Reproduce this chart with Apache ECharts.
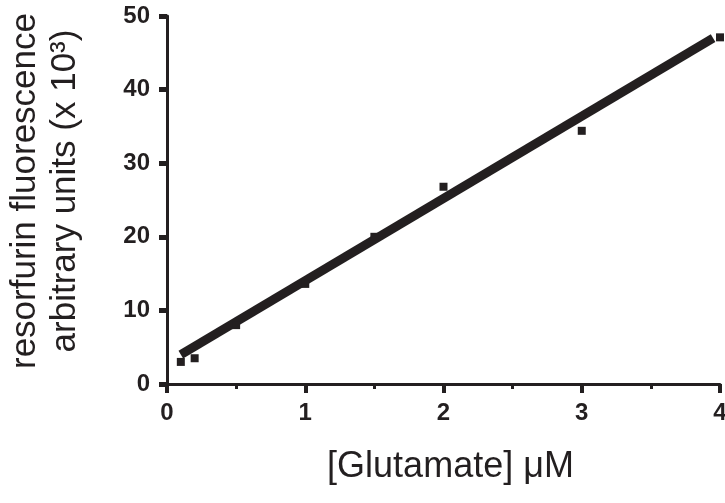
<!DOCTYPE html>
<html>
<head>
<meta charset="utf-8">
<script src="https://cdn.jsdelivr.net/npm/echarts@6/dist/echarts.min.js"></script>
<style>
html,body{margin:0;padding:0;background:#fff;}
#chart{width:725px;height:503px;}
</style>
</head>
<body>
<div id="chart"></div>
<script>
// Data
const glutamateX = [0.1, 0.2, 0.5, 1, 1.5, 2, 3, 4];
const fluorescenceY = [3.0, 3.5, 8.0, 13.6, 20.0, 26.8, 34.4, 47.1];
const fitX = [0.1, 3.95];
const fitY = [4.0, 47.0];
const xTickLabels = ['0', '1', '2', '3', '4'];
const yTickLabels = ['0', '10', '20', '30', '40', '50'];

const ink = '#231f20';
const chart = echarts.init(document.getElementById('chart'));

const points = glutamateX.map((x, i) => [x, fluorescenceY[i]]);
const fitLine = fitX.map((x, i) => [x, fitY[i]]);

chart.setOption({
  animation: false,
  backgroundColor: '#ffffff',
  grid: { left: 167, right: 5, top: 16, bottom: 119, containLabel: false, outerBoundsMode: 'none' },
  xAxis: {
    type: 'value', min: 0, max: 4, interval: 1, offset: 3,
    axisLine: { show: true, lineStyle: { color: ink, width: 3 } },
    axisTick: { show: true, length: 9, lineStyle: { color: ink, width: 4 } },
    minorTick: { show: true, splitNumber: 2, length: 5, lineStyle: { color: ink, width: 3 } },
    splitLine: { show: false },
    axisLabel: {
      margin: 14, color: ink, fontFamily: 'Liberation Sans, Arial', fontWeight: 'bold', fontSize: 24,
      formatter: v => xTickLabels[Math.round(v)] ?? ''
    },
    name: '[Glutamate] \u03bcM',
    nameLocation: 'middle', nameGap: 62,
    nameTextStyle: { color: ink, fontFamily: 'Liberation Sans, Arial', fontSize: 36, padding: [0, 0, 0, 14] }
  },
  yAxis: {
    type: 'value', min: 0, max: 50, interval: 10, offset: 4,
    axisLine: { show: true, lineStyle: { color: ink, width: 3 } },
    axisTick: { show: true, length: 8, lineStyle: { color: ink, width: 5 } },
    splitLine: { show: false },
    axisLabel: {
      margin: 13, color: ink, fontFamily: 'Liberation Sans, Arial', fontWeight: 'bold', fontSize: 24,
      formatter: v => yTickLabels[Math.round(v / 10)] ?? ''
    },
    name: 'resorfurin fluorescence\narbitrary units (x 10\u00b3)',
    nameLocation: 'middle', nameGap: 78, nameRotate: 90,
    nameTextStyle: { color: ink, fontFamily: 'Liberation Sans, Arial', fontSize: 35, lineHeight: 40, padding: [0, 0, 0, 18] }
  },
  series: [
    {
      type: 'line', data: fitLine, showSymbol: false, symbol: 'none',
      lineStyle: { color: ink, width: 9, cap: 'butt' }, z: 2
    },
    {
      type: 'scatter', data: points, symbol: 'rect', symbolSize: 8,
      itemStyle: { color: ink, opacity: 1 }, z: 3
    }
  ]
});
</script>
</body>
</html>
